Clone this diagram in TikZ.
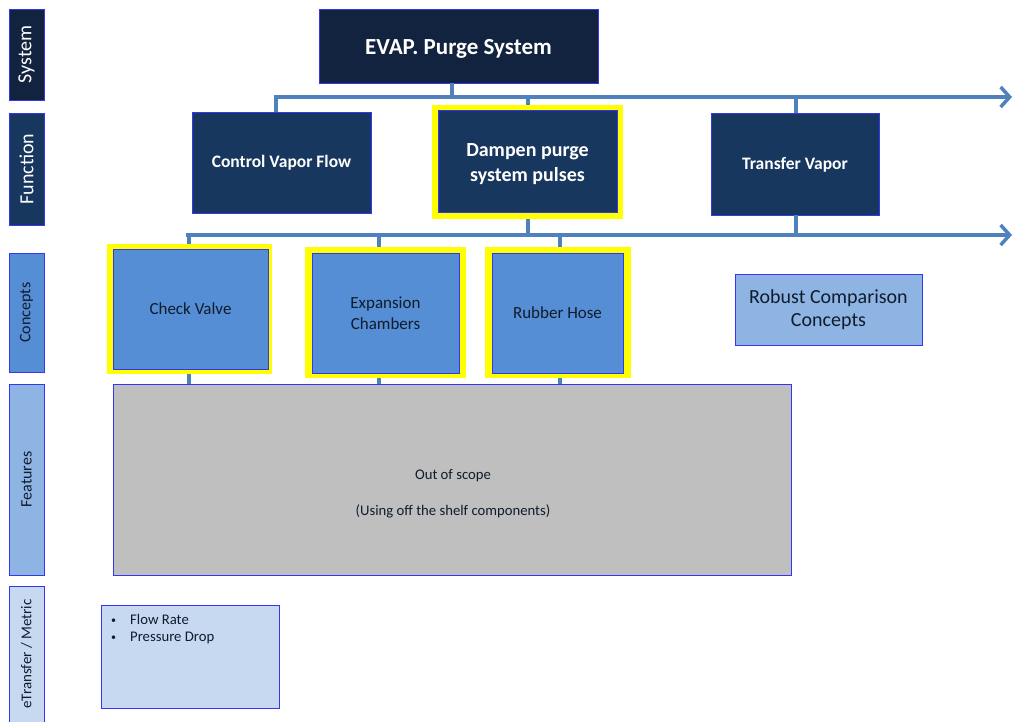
\documentclass[tikz,border=0pt]{standalone}
\usepackage{fontspec}
\setmainfont{Carlito}
\usetikzlibrary{arrows.meta}
\definecolor{navy}{HTML}{12233F}
\definecolor{fnavy}{HTML}{17375E}
\definecolor{cblue}{HTML}{558ED5}
\definecolor{fblue}{HTML}{8EB4E3}
\definecolor{mblue}{HTML}{C6D9F1}
\definecolor{bord}{HTML}{3535F2}
\definecolor{conn}{HTML}{4F81BD}
\definecolor{gry}{HTML}{BFBFBF}
\definecolor{txtd}{HTML}{101C2C}
\definecolor{hyel}{HTML}{FFFF00}
\newcommand{\smbul}{\makebox[20pt][l]{\hspace{1pt}\fontsize{10}{12}\selectfont\raisebox{1pt}{•}}}
\begin{document}
\begin{tikzpicture}[x=1pt,y=-1pt,
  box/.style={draw=bord, line width=0.8pt, inner sep=2pt, align=center, outer sep=0pt},
  rbox/.style={box, anchor=north west, minimum width=#1},
  lab/.style={box, rotate=90, minimum height=35pt},
  hl/.style={fill=hyel, draw=none, inner sep=0pt, outer sep=0pt, anchor=north west},
  bus/.style={draw=conn, line width=3.5pt},
  busarrow/.style={bus, -{Straight Barb[length=9pt,width=20pt]}},
  fsys/.style={font=\fontsize{23}{27}\selectfont\bfseries, text=white},
  ffun/.style={font=\fontsize{17.5}{21}\selectfont\bfseries, text=white},
  ffunb/.style={font=\fontsize{20}{24.5}\selectfont\bfseries, text=white},
  fcon/.style={font=\fontsize{17}{21}\selectfont, text=txtd},
  fsmall/.style={font=\fontsize{14.7}{18}\selectfont, text=txtd}
]
\useasboundingbox (0,0) rectangle (1013,721);
\clip (0,0) rectangle (1013,721);

% left level labels
\node[lab, fill=navy, minimum width=91pt, text=white, font=\fontsize{20}{24}\selectfont] (lSys) at (26.5,54.5) {System};
\node[lab, fill=fnavy, minimum width=112pt, text=white, font=\fontsize{20}{24}\selectfont] (lFun) at (26.5,169) {Function};
\node[lab, fill=cblue, minimum width=119pt, text=txtd, font=\fontsize{16}{19}\selectfont] (lCon) at (26.5,312.5) {Concepts};
\node[lab, fill=fblue, minimum width=191pt, text=txtd, font=\fontsize{16}{19}\selectfont] (lFea) at (26.5,479.5) {Features};
\node[lab, fill=mblue, minimum width=136pt, text=txtd, font=\fontsize{15}{18}\selectfont] (lMet) at (26.5,654) {eTransfer / Metric};

% system
\node[rbox=279pt, minimum height=74pt, fill=navy, fsys, text height=23pt, text depth=5.7pt] (sys) at (319,9) {EVAP. Purge System};

% functions
\node[rbox=179pt, minimum height=101pt, fill=fnavy, ffun] (cvf) at (192,112) {Control Vapor Flow};
\node[hl, minimum width=191pt, minimum height=114pt] (dampY) at (432,105) {};
\node[rbox=179pt, minimum height=102pt, fill=fnavy, ffunb] (damp) at (438,110) {\rule{0pt}{19pt}Dampen purge\\system pulses};
\node[rbox=168pt, minimum height=102pt, fill=fnavy, ffun, text height=15pt, text depth=4pt] (tv) at (711,113) {Transfer Vapor};

% concepts
\node[hl, minimum width=165pt, minimum height=130pt] (cvY) at (107,244) {};
\node[rbox=155pt, minimum height=120pt, fill=cblue, fcon] (cv) at (113,249) {Check Valve};
\node[hl, minimum width=161pt, minimum height=131pt] (ecY) at (305,247) {};
\node[rbox=147pt, minimum height=120pt, fill=cblue, fcon] (ec) at (312,253) {Expansion\\Chambers};
\node[hl, minimum width=146pt, minimum height=131pt] (rhY) at (485,247) {};
\node[rbox=131pt, minimum height=120pt, fill=cblue, fcon] (rh) at (492,253) {Rubber Hose};
\node[rbox=187pt, minimum height=71pt, fill=fblue, text=txtd, font=\fontsize{20}{23}\selectfont] (rcc) at (735,274) {Robust Comparison\\Concepts};

% features
\node[rbox=678pt, minimum height=191pt, fill=gry] (feat) at (113,384) {};
\node[fsmall, align=center, inner sep=0pt] (featTxt) at (453,494) {Out of scope\\[18pt](Using off the shelf components)};

% metrics
\node[rbox=178pt, minimum height=103pt, fill=mblue] (met) at (101,605) {};
\node[fsmall, align=left, anchor=north west, inner sep=0pt] (metTxt) at (110,614)
  {\smbul Flow Rate\\[-1pt]\smbul Pressure Drop};

% bus coordinates
\coordinate (b1) at (452,97);
\coordinate (b1L) at (276,97);
\coordinate (b1M) at (528,97);
\coordinate (b1R) at (796,97);
\coordinate (b1E) at (1012,97);
\coordinate (b2L) at (188,235);
\coordinate (b2a) at (189,235);
\coordinate (b2b) at (379,235);
\coordinate (b2c) at (560,235);
\coordinate (b2M) at (528,235);
\coordinate (b2R) at (796,235);
\coordinate (b2E) at (1012,235);

% connectors
\draw[bus] (sys.south -| b1) -- (b1);
\draw[busarrow] ([xshift=-1.75pt]b1L) -- (b1E);
\draw[bus] (b1L) -- (b1L |- cvf.north);
\draw[bus] (b1M) -- (b1M |- dampY.north);
\draw[bus] (b1R) -- (b1R |- tv.north);

\draw[busarrow] ([xshift=-1.75pt]b2L) -- (b2E);
\draw[bus] (b2M |- dampY.south) -- (b2M);
\draw[bus] (b2R |- tv.south) -- (b2R);
\draw[bus] (b2a) -- (b2a |- cvY.north);
\draw[bus] (b2b) -- (b2b |- ecY.north);
\draw[bus] (b2c) -- (b2c |- rhY.north);

\draw[bus] (b2a |- cvY.south) -- (b2a |- feat.north);
\draw[bus] (b2b |- ecY.south) -- (b2b |- feat.north);
\draw[bus] (b2c |- rhY.south) -- (b2c |- feat.north);
\end{tikzpicture}
\end{document}
